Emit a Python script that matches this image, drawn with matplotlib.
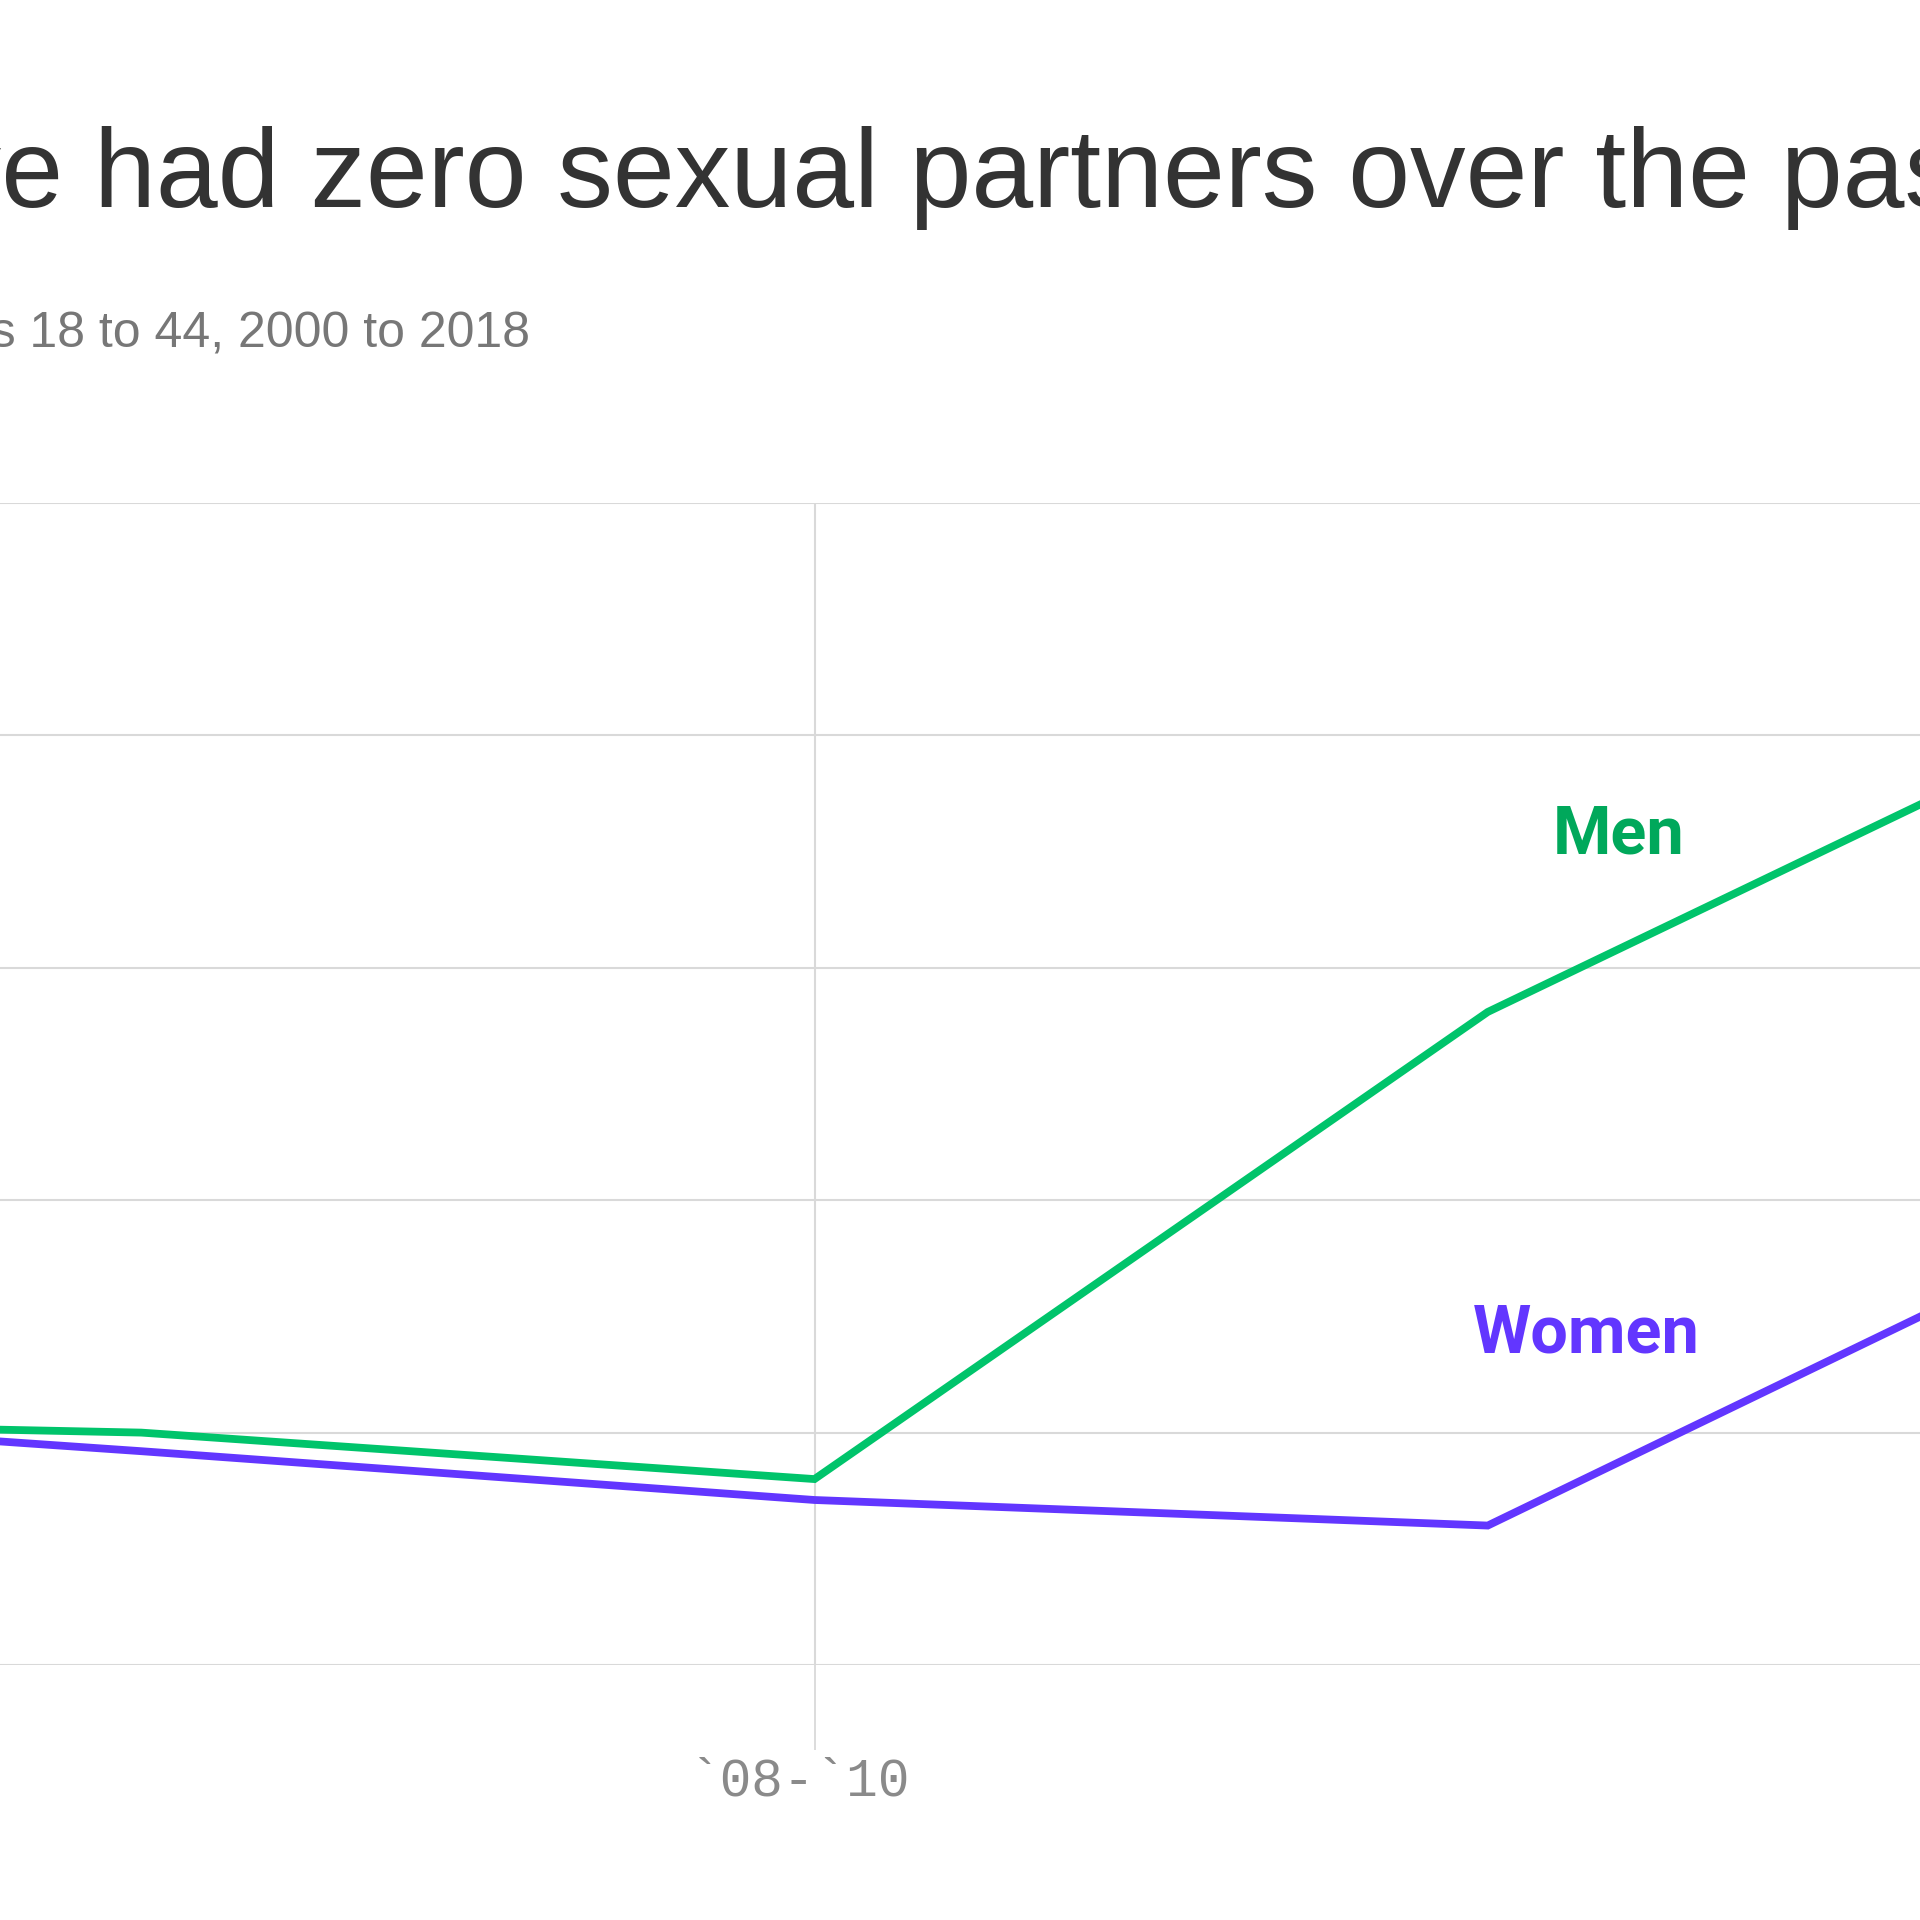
import matplotlib
matplotlib.use("Agg")
import matplotlib.pyplot as plt
import matplotlib.transforms as mtransforms

# ---- data ----
periods = ["`00-`02", "`04-`06", "`08-`10", "`12-`14", "`16-`18"]
men = [5.3, 5.0, 4.0, 14.05, 21.0]
women = [5.6, 4.6, 3.55, 3.0, 10.0]
tick_positions = [0, 2, 4]
tick_labels = ["`00-`02", "`08-`10", "`16-`18"]
y_grid = [0, 5, 10, 15, 20, 25]

TITLE = "Share of Americans who have had zero sexual partners over the past year"
TITLE_SUFFIX = "had zero sexual partners over the past year"
SUBTITLE = "Americans ages 18 to 44, 2000 to 2018"

GREEN = "#00c46b"
GREEN_TXT = "#00a85b"
PURPLE = "#6236ff"
GRID = "#d9d9d9"

W = H = 1920
fig = plt.figure(figsize=(19.2, 19.2), dpi=100)
fig.patch.set_facecolor("white")

# axes spanning beyond the canvas (pixel coords: x -532..2161, y 503..1665)
x0, x1 = -532, 2161
ytop, ybot = 503, 1665
ax = fig.add_axes([x0 / W, 1 - ybot / H, (x1 - x0) / W, (ybot - ytop) / H])
xs = list(range(len(periods)))
ax.plot(xs, men, color=GREEN, lw=5.6, solid_joinstyle="miter", clip_on=False, zorder=3)
ax.plot(xs, women, color=PURPLE, lw=5.6, solid_joinstyle="miter", clip_on=False, zorder=3)
ax.set_xlim(0, len(periods) - 1)
ax.set_ylim(y_grid[0], y_grid[-1])
ax.set_yticks(y_grid)
ax.set_xticks(tick_positions)
ax.tick_params(axis="y", length=0, labelleft=False)
ax.tick_params(axis="x", length=61, width=1.3, color=GRID, labelbottom=False)
ax.grid(True, color=GRID, lw=1.5, zorder=0)
for s in ax.spines.values():
    s.set_visible(False)

# x tick labels (slightly left of their gridline, as in the original)
lbl_trans = ax.get_xaxis_transform() + mtransforms.ScaledTranslation(
    -15 / 100, -131 / 100, fig.dpi_scale_trans)
for xp, lab in zip(tick_positions, tick_labels):
    ax.text(xp, 0, lab, transform=lbl_trans, family="Liberation Mono", fontsize=38,
            color="#8a8a8a", ha="center", va="baseline", clip_on=False)

ax.text(3.195, 17.45, "Men", color=GREEN_TXT, fontsize=48, fontweight="bold",
        family="Roboto", ha="center", va="baseline")
ax.text(3.146, 6.73, "Women", color=PURPLE, fontsize=48, fontweight="bold",
        family="Roboto", ha="center", va="baseline")

# title positioned so that "had" begins at x~94 px (advance origin)
TFS = 80
renderer = fig.canvas.get_renderer()
tmp = fig.text(0, 0, TITLE_SUFFIX, fontsize=TFS, family="Liberation Sans")
suffix_w = tmp.get_window_extent(renderer).width
tmp.remove()
fig.text((94 + suffix_w) / W, 1 - 207 / H, TITLE, fontsize=TFS, family="Liberation Sans",
         color="#333333", ha="right", va="baseline")

fig.text(530 / W, 1 - 347 / H, SUBTITLE, fontsize=36, family="Liberation Sans",
         color="#777777", ha="right", va="baseline")

fig.savefig("out.png", dpi=100, facecolor="white")
